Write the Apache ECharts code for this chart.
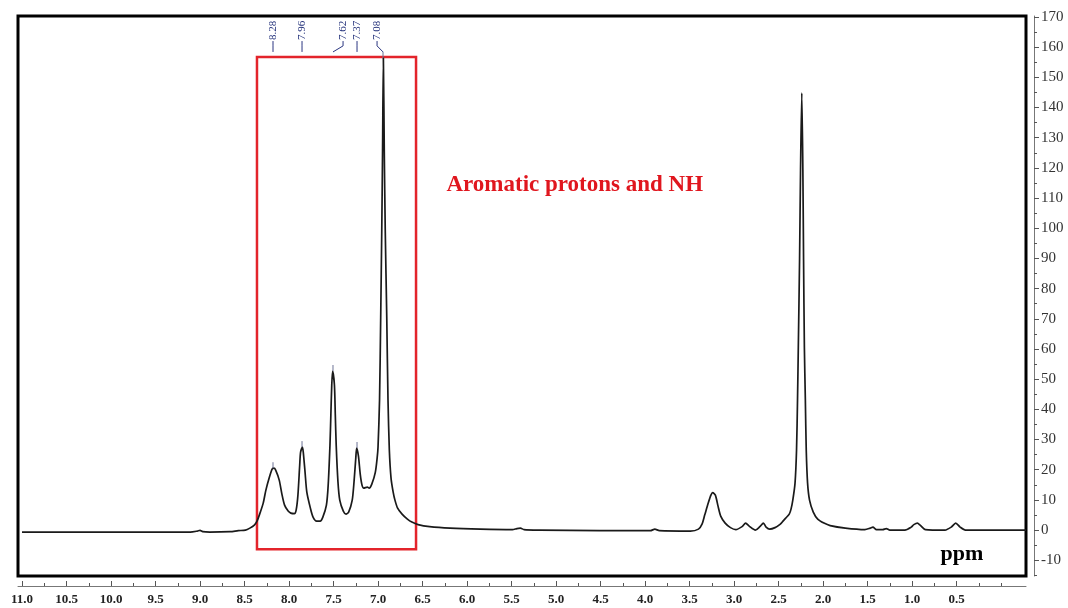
<!DOCTYPE html>
<html>
<head>
<meta charset="utf-8">
<script src="https://cdn.jsdelivr.net/npm/echarts@6/dist/echarts.min.js"></script>
<style>
html,body{margin:0;padding:0;background:#fff;}
#chart{width:1068px;height:608px;}
</style>
</head>
<body>
<div id="chart"></div>
<script>
// ---- DATA ----
// spectrum points [ppm, intensity] (ppm as on the bottom scale)
var spectrum = [
[11.00,-0.66],[10.12,-0.66],[9.11,-0.66],[9.03,-0.33],[9.00,-0.1],[8.97,-0.5],[8.89,-0.66],
[8.66,-0.5],[8.57,-0.17],[8.49,0],[8.44,0.66],[8.39,1.66],[8.36,2.98],[8.33,5.30],[8.29,8.95],
[8.26,13.25],[8.22,17.56],[8.19,20.21],[8.17,20.54],[8.15,19.88],[8.11,16.57],[8.08,11.93],
[8.05,8.28],[8.01,6.30],[7.98,5.63],[7.94,5.47],[7.92,6.63],[7.90,11.60],[7.88,21.54],
[7.87,25.85],[7.85,27.50],[7.84,25.85],[7.82,19.22],[7.80,12.59],[7.76,7.29],[7.73,4.31],
[7.69,2.98],[7.65,2.98],[7.62,4.31],[7.58,8.28],[7.56,14.91],[7.54,28.16],[7.53,38.10],
[7.52,48.05],[7.51,52.68],[7.49,48.05],[7.48,38.10],[7.47,28.16],[7.45,15.90],[7.43,9.94],
[7.39,6.30],[7.36,5.30],[7.33,5.96],[7.29,9.94],[7.27,15.90],[7.25,23.86],[7.24,27.17],
[7.22,24.52],[7.20,18.56],[7.18,14.91],[7.16,13.92],[7.12,14.25],[7.10,13.92],[7.07,15.24],
[7.03,19.22],[7.01,23.86],[7.00,27.50],[6.983,43.07],[6.970,70.58],[6.958,99.40],[6.949,125.9],
[6.940,156.4],[6.930,125.9],[6.919,99.40],[6.902,70.58],[6.888,43.07],[6.873,26.51],[6.854,17.23],
[6.83,12.59],[6.81,9.94],[6.78,7.29],[6.73,5.30],[6.67,3.64],[6.62,2.65],[6.55,1.82],[6.42,1.16],
[6.19,0.66],[5.85,0.33],[5.49,0.17],[5.44,0.5],[5.40,0.66],[5.36,0.17],[5.18,0],[4.51,-0.17],
[3.94,-0.17],[3.89,0.33],[3.84,-0.17],[3.49,-0.33],[3.40,0.33],[3.36,1.99],[3.33,4.97],
[3.29,8.95],[3.26,11.60],[3.24,12.43],[3.21,11.60],[3.18,7.95],[3.15,4.64],[3.10,2.32],
[3.04,0.83],[2.98,0.17],[2.91,1.16],[2.87,2.32],[2.83,1.33],[2.76,0],[2.71,1.16],[2.67,2.32],
[2.64,0.99],[2.60,0.33],[2.54,0.83],[2.48,1.99],[2.45,2.98],[2.42,3.98],[2.38,5.30],[2.36,6.96],
[2.34,9.94],[2.315,15.57],[2.298,26.51],[2.287,43.07],[2.278,60.64],[2.264,89.46],[2.253,119.3],
[2.239,144.8],[2.227,119.3],[2.219,89.46],[2.210,60.64],[2.199,43.07],[2.189,26.51],[2.174,15.57],
[2.152,9.94],[2.11,5.96],[2.06,3.64],[1.99,2.32],[1.92,1.49],[1.75,0.66],[1.53,0.17],[1.47,0.66],
[1.44,0.99],[1.40,0.17],[1.33,0.17],[1.29,0.5],[1.25,0],[1.08,0],[1.01,0.99],[0.98,1.82],
[0.94,2.32],[0.91,1.66],[0.85,0.17],[0.63,0],[0.56,0.99],[0.51,2.32],[0.46,0.99],[0.40,0],
[0.12,0],[-0.28,0]
];

// peak pick labels (text, label position on ppm scale, peak position, peak height)
var peakTexts     = ['8.28', '7.96', '7.62', '7.37', '7.08'];
var peakLabelPpm  = [8.180, 7.854, 7.393, 7.236, 7.011];
var peakPpm       = [8.180, 7.854, 7.506, 7.236, 6.944];
var peakHeight    = [20.5, 27.5, 52.7, 27.2, 156.4];

// highlighted region (ppm from, ppm to, intensity top, intensity bottom)
var regionPpm = [8.36, 6.573];
var regionInt = [156.7, -6.3];
// free text annotations: text, anchor ppm, anchor intensity
var noteTexts = ['Aromatic protons and NH', 'ppm'];
var notePpm   = [4.79, 0.44];
var noteInt   = [114.3, -8.0];

// tick labels
var xTickLabels = [11.0,10.5,10.0,9.5,9.0,8.5,8.0,7.5,7.0,6.5,6.0,5.5,5.0,4.5,4.0,3.5,3.0,2.5,2.0,1.5,1.0,0.5];
var xMinorTicks = [10.75,10.25,9.75,9.25,8.75,8.25,7.75,7.25,6.75,6.25,5.75,5.25,4.75,4.25,3.75,3.25,2.75,2.25,1.75,1.25,0.75,0.25,0.0];
var yTickLabels = [-10,0,10,20,30,40,50,60,70,80,90,100,110,120,130,140,150,160,170];
var yMinorTicks = [-15,-5,5,15,25,35,45,55,65,75,85,95,105,115,125,135,145,155,165];

// ---- CHART ----
var chart = echarts.init(document.getElementById('chart'), null, {renderer: 'canvas'});
var SERIF = '"Liberation Serif", "DejaVu Serif", serif';

var peakData = peakTexts.map(function (t, i) {
  return [peakLabelPpm[i], peakPpm[i], peakHeight[i], i];
});
var noteData = noteTexts.map(function (t, i) { return [notePpm[i], noteInt[i], i]; });
var noteStyles = [
  {fontSize: 23, fill: '#e0161e'},
  {fontSize: 22, fill: '#000000'}
];

var option = {
  animation: false,
  backgroundColor: '#ffffff',
  grid: {
    left: 18, right: 42, top: 16, bottom: 32,
    show: true, borderColor: '#000', borderWidth: 3, backgroundColor: 'transparent'
  },
  xAxis: [{
    type: 'value', inverse: true, min: -0.28, max: 11.045,
    position: 'bottom', offset: 10,
    axisLine: {show: true, onZero: false, lineStyle: {color: '#777', width: 1}},
    axisTick: {show: true, inside: true, length: 5, customValues: xTickLabels, lineStyle: {color: '#555'}},
    axisLabel: {
      show: true, customValues: xTickLabels, margin: 7,
      fontFamily: SERIF, fontWeight: 'bold', fontSize: 13, color: '#222',
      formatter: function (v) { return v.toFixed(1); }
    },
    splitLine: {show: false}
  }, {
    type: 'value', inverse: true, min: -0.28, max: 11.045,
    position: 'bottom', offset: 10,
    axisLine: {show: false, onZero: false},
    axisTick: {show: true, inside: true, length: 3, customValues: xMinorTicks, lineStyle: {color: '#555'}},
    axisLabel: {show: false},
    splitLine: {show: false}
  }],
  yAxis: [{
    type: 'value', min: -15.2, max: 170.3,
    position: 'right', offset: 8,
    axisLine: {show: true, onZero: false, lineStyle: {color: '#777', width: 1}},
    axisTick: {show: true, length: 5, customValues: yTickLabels, lineStyle: {color: '#555'}},
    axisLabel: {
      show: true, customValues: yTickLabels, margin: 7,
      fontFamily: SERIF, fontSize: 15, color: '#333'
    },
    splitLine: {show: false}
  }, {
    type: 'value', min: -15.2, max: 170.3,
    position: 'right', offset: 8,
    axisLine: {show: false, onZero: false},
    axisTick: {show: true, length: 3, customValues: yMinorTicks, lineStyle: {color: '#555'}},
    axisLabel: {show: false},
    splitLine: {show: false}
  }],
  series: [{
    type: 'line',
    data: spectrum,
    xAxisIndex: 0, yAxisIndex: 0,
    showSymbol: false,
    smooth: 0.25,
    clip: false,
    lineStyle: {color: '#1a1a1a', width: 1.7, join: 'round'},
    z: 3,
    markArea: {
      silent: true,
      itemStyle: {color: 'rgba(0,0,0,0)', borderColor: '#e3242b', borderWidth: 2.5},
      data: [[{xAxis: regionPpm[0], yAxis: regionInt[0]}, {xAxis: regionPpm[1], yAxis: regionInt[1]}]]
    }
  }, {
    type: 'custom',
    coordinateSystem: 'cartesian2d',
    xAxisIndex: 0, yAxisIndex: 0,
    clip: false,
    silent: true,
    data: peakData,
    encode: {x: 0, y: 2},
    z: 4,
    renderItem: function (params, api) {
      var lx = api.value(0), px = api.value(1), ph = api.value(2), idx = api.value(3);
      var textBottom = api.coord([lx, 162.0]);
      var bend = api.coord([lx, 160.4]);
      var end = api.coord([px, 158.4]);
      var top = api.coord([px, ph]);
      return {
        type: 'group',
        children: [{
          type: 'polyline',
          shape: {points: [[textBottom[0], textBottom[1]], [bend[0], bend[1]], [end[0], end[1]]]},
          style: {stroke: '#2a3580', lineWidth: 1, fill: null}
        }, {
          type: 'line',
          shape: {x1: top[0], y1: top[1], x2: top[0], y2: top[1] - 6},
          style: {stroke: '#6d7396', lineWidth: 1}
        }, {
          type: 'text',
          x: textBottom[0], y: textBottom[1] - 1,
          rotation: Math.PI / 2,
          style: {
            text: peakTexts[idx],
            fontFamily: SERIF, fontSize: 11, fill: '#22307a',
            align: 'left', verticalAlign: 'middle'
          }
        }]
      };
    }
  }, {
    type: 'custom',
    coordinateSystem: 'cartesian2d',
    xAxisIndex: 0, yAxisIndex: 0,
    clip: false,
    silent: true,
    data: noteData,
    encode: {x: 0, y: 1},
    z: 5,
    renderItem: function (params, api) {
      var p = api.coord([api.value(0), api.value(1)]);
      var idx = api.value(2);
      var st = noteStyles[idx];
      return {
        type: 'text',
        x: p[0], y: p[1],
        style: {
          text: noteTexts[idx],
          fontFamily: SERIF, fontWeight: 'bold',
          fontSize: st.fontSize, fill: st.fill,
          align: 'center', verticalAlign: 'middle'
        }
      };
    }
  }]
};
chart.setOption(option);
</script>
</body>
</html>
